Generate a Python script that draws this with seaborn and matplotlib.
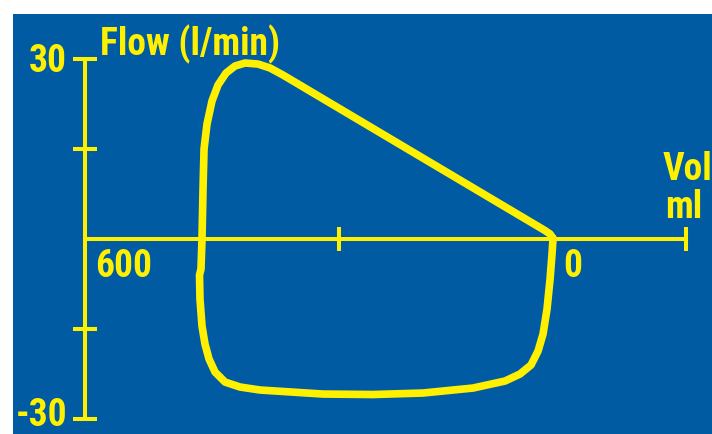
import pandas as pd
import seaborn as sns
import matplotlib.pyplot as plt

# Flow-volume loop (volume in ml, flow in l/min)
volume = [0, 3.8, 10.3, 346.2, 362.8, 378.2, 394.9, 407.7, 419.2, 429.5,
          437.2, 443.6, 447.4, 448.7, 450.0, 451.3, 453.2, 452.6, 450.0, 446.2,
          441.0, 433.3, 420.5, 401.3, 375.6, 294.9, 230.8, 166.7, 102.6, 61.5,
          42.3, 28.2, 19.2, 12.8, 7.7, 3.8, 1.3, 0]
flow = [0, 0.75, 1.33, 27.25, 28.42, 29.08, 29.25, 28.75, 27.58, 25.58,
        22.92, 19.08, 14.92, 8.25, 0, -5.08, -6.08, -10.08, -14.58, -17.58,
        -20.08, -22.25, -23.92, -24.75, -25.25, -25.92, -26.0, -25.75, -24.92, -23.75,
        -22.58, -21.08, -18.75, -15.92, -11.75, -6.75, -2.58, 0]

flow_ticks = [-30, -15, 15, 30]
volume_ticks = [275, -171]

BLUE = "#005BA2"
YELLOW = "#FFF000"


def main():
    df = pd.DataFrame({"Volume": volume, "Flow": flow})

    sns.set_style("white")
    plt.rcParams["font.family"] = ["Roboto Condensed", "Barlow Condensed",
                                   "Archivo Narrow", "DejaVu Sans"]

    fig = plt.figure(figsize=(7.12, 4.35), dpi=100, facecolor="white")
    ax = fig.add_axes([13 / 712, 0, 699 / 712, 420 / 435])
    ax.set_facecolor(BLUE)

    sns.lineplot(data=df, x="Volume", y="Flow", sort=False, estimator=None,
                 color=YELLOW, linewidth=5.5, ax=ax,
                 solid_joinstyle="round", solid_capstyle="round")

    ax.set_xlim(692.3, -203.8)
    ax.set_ylim(-32.58, 37.42)

    # axes drawn as crossing yellow lines
    for side in ["top", "right"]:
        ax.spines[side].set_visible(False)
    ax.spines["left"].set_position(("data", 600))
    ax.spines["left"].set_bounds(-30, 30)
    ax.spines["bottom"].set_position(("data", 0))
    ax.spines["bottom"].set_bounds(600, -171)
    for side in ["left", "bottom"]:
        ax.spines[side].set_color(YELLOW)
        ax.spines[side].set_linewidth(2.9)
        ax.spines[side].set_capstyle("butt")

    ax.set_yticks(flow_ticks)
    ax.set_xticks(volume_ticks)
    ax.set_yticklabels([])
    ax.set_xticklabels([])
    ax.tick_params(left=True, bottom=True, direction="inout", length=16.6,
                   width=2.9, color=YELLOW)
    ax.set_xlabel("")
    ax.set_ylabel("")

    style = dict(color=YELLOW, fontsize=27, fontweight="bold", va="baseline")
    ax.text(623, 27.9, "30", ha="right", **style)
    ax.text(623, -31.1, "-30", ha="right", **style)
    ax.text(580.8, 30.75, "Flow (l/min)", ha="left", **style)
    ax.text(-141, 9.9, "Vol", ha="left", **style)
    ax.text(-143.6, 3.6, "ml", ha="left", **style)
    ax.text(587, -6.25, "600", ha="left", **style)
    ax.text(-12.8, -6.25, "0", ha="left", **style)

    fig.savefig("out.png", dpi=100, facecolor="white")


if __name__ == "__main__":
    main()
